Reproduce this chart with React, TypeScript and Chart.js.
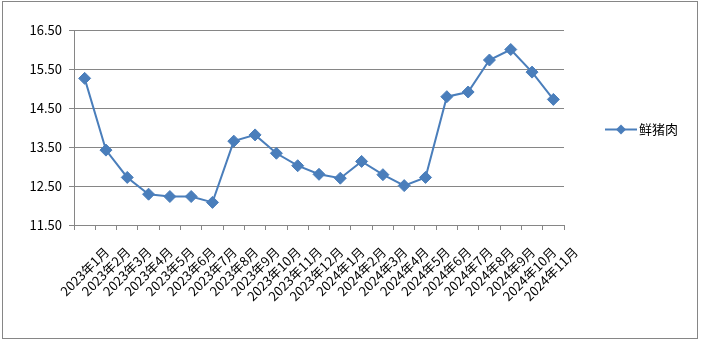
import React, { useEffect, useRef } from 'react';
import { Chart, registerables } from 'chart.js';

Chart.register(...registerables);

const categories = [
  '2023年1月', '2023年2月', '2023年3月', '2023年4月', '2023年5月', '2023年6月',
  '2023年7月', '2023年8月', '2023年9月', '2023年10月', '2023年11月', '2023年12月',
  '2024年1月', '2024年2月', '2024年3月', '2024年4月', '2024年5月', '2024年6月',
  '2024年7月', '2024年8月', '2024年9月', '2024年10月', '2024年11月',
];
const porkPrices = [
  15.26, 13.42, 12.72, 12.29, 12.23, 12.23, 12.08, 13.65, 13.81, 13.34, 13.02, 12.8,
  12.7, 13.13, 12.79, 12.51, 12.72, 14.79, 14.91, 15.73, 16.0, 15.42, 14.72,
];
const seriesName = '鲜猪肉';
const yMin = 11.5;
const yMax = 16.5;
const yStep = 1;

const BLUE = '#4A7EBB';
const GRAY = '#868686';
const FONT = '"Noto Sans CJK SC", "DejaVu Sans", sans-serif';

const framePlugin = {
  id: 'frame',
  beforeDraw(chart: any) {
    const ctx = chart.ctx;
    ctx.save();
    ctx.fillStyle = '#ffffff';
    ctx.fillRect(0, 0, chart.width, chart.height);
    ctx.strokeStyle = GRAY;
    ctx.lineWidth = 1;
    ctx.strokeRect(2.5, 1.5, 695, 337);
    ctx.restore();
  },
  afterDraw(chart: any) {
    const ctx = chart.ctx;
    const y = 129.5;
    ctx.save();
    ctx.strokeStyle = BLUE;
    ctx.lineWidth = 2;
    ctx.beginPath();
    ctx.moveTo(605, y);
    ctx.lineTo(637, y);
    ctx.stroke();
    ctx.fillStyle = BLUE;
    ctx.beginPath();
    ctx.moveTo(621, y - 5);
    ctx.lineTo(626, y);
    ctx.lineTo(621, y + 5);
    ctx.lineTo(616, y);
    ctx.closePath();
    ctx.fill();
    ctx.fillStyle = '#000000';
    ctx.font = '13px ' + FONT;
    ctx.textBaseline = 'middle';
    ctx.textAlign = 'left';
    ctx.fillText(seriesName, 639, y);
    ctx.restore();
  },
};

export default function App() {
  const ref = useRef<HTMLCanvasElement | null>(null);
  useEffect(() => {
    document.body.style.margin = '0';
    const canvas = ref.current;
    if (!canvas) return;
    const chart = new Chart(canvas, {
      type: 'line',
      data: {
        labels: categories,
        datasets: [
          {
            label: seriesName,
            data: porkPrices,
            borderColor: BLUE,
            backgroundColor: BLUE,
            borderWidth: 2,
            pointStyle: 'rectRot',
            pointRadius: 6,
            pointBorderWidth: 1,
            pointBackgroundColor: BLUE,
            pointBorderColor: BLUE,
            tension: 0,
          },
        ],
      },
      options: {
        responsive: false,
        animation: false,
        devicePixelRatio: 1,
        layout: { padding: { left: 0, right: 137, top: 30, bottom: 0 } },
        plugins: { legend: { display: false }, tooltip: { enabled: false } },
        scales: {
          x: {
            type: 'category',
            offset: true,
            grid: {
              offset: true,
              drawOnChartArea: false,
              drawTicks: true,
              tickLength: 5,
              color: GRAY,
            },
            border: { display: true, color: GRAY, width: 1 },
            ticks: {
              autoSkip: false,
              maxRotation: 45,
              minRotation: 45,
              color: '#000000',
              font: { family: FONT, size: 13 },
              padding: 14,
              labelOffset: 22,
            },
            afterFit(scale: any) {
              scale.height = 130;
            },
          },
          y: {
            min: yMin,
            max: yMax,
            grid: { color: GRAY, drawTicks: true, tickLength: 5 },
            border: { display: true, color: GRAY, width: 1 },
            ticks: {
              stepSize: yStep,
              color: '#000000',
              font: { family: FONT, size: 13 },
              padding: 7,
              callback: (v: any) => Number(v).toFixed(2),
            },
            afterFit(scale: any) {
              scale.width = 74;
            },
          },
        },
      },
      plugins: [framePlugin],
    });
    return () => chart.destroy();
  }, []);
  return (
    <div style={{ position: 'absolute', left: 0, top: 0 }}>
      <canvas ref={ref} width={701} height={355} style={{ display: 'block', width: 701, height: 355 }} />
    </div>
  );
}
